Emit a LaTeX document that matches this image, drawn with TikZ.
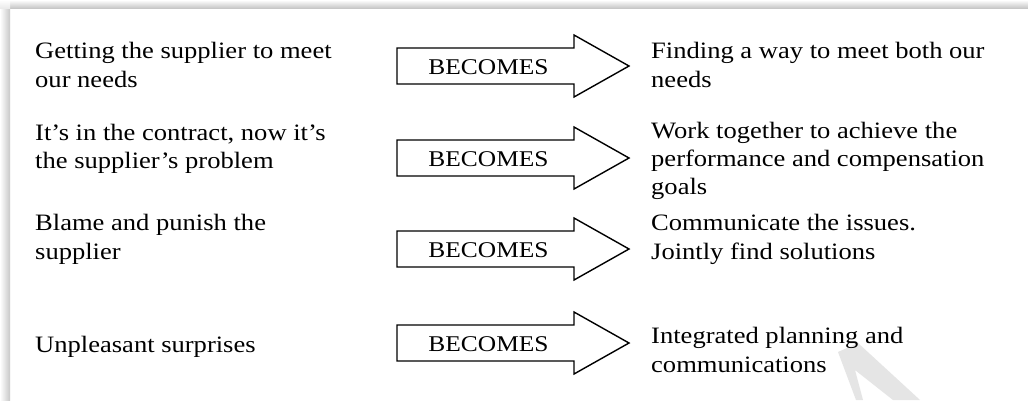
\documentclass[tikz,border=0pt]{standalone}
\usepackage{fontspec}
\setmainfont{Liberation Serif}[FakeStretch=1.13]
\begin{document}
\begin{tikzpicture}[x=1pt,y=-1pt,
  body/.style={anchor=base west,inner sep=0pt,font=\fontsize{23.5}{29}\selectfont},
  arrowline/.style={draw=black,fill=white,line width=1.4pt,line join=miter},
  becomestext/.style={inner sep=0pt,anchor=base,font=\fontsize{22.5}{27}\selectfont},
  becomes/.pic={
    \draw[arrowline] (-88.5,-18) -- (88.5,-18) -- (88.5,-31) -- (143.5,0) -- (88.5,31) -- (88.5,18) -- (-88.5,18) -- cycle;
    \node[becomestext] (-t) at (3,8) {BECOMES};
  }]
\useasboundingbox (0,0) rectangle (1028,400);
% page and shadow
\fill[white] (0,0) rectangle (1028,400);
\shade[left color=white,right color=black!22] (0,8) rectangle (10,400);
\shade[top color=white,bottom color=black!22] (10,0) rectangle (1028,8);
\shade[top color=white,bottom color=black!8] (0,0) rectangle (10,8);
% watermark fragment
\fill[black!10] (838,352) -- (858,343) -- (920,400) -- (893,400) -- (855,370) -- (863,400) -- (856,400) -- cycle;
% arrows
\pic (a1) at (485.5,66) {becomes};
\pic (a2) at (485.5,158) {becomes};
\pic (a3) at (485.5,249) {becomes};
\pic (a4) at (485.5,343) {becomes};
% left column
\node[body] (l1a) at (35,58) {Getting the supplier to meet};
\node[body] (l1b) at (35,87) {our needs};
\node[body] (l2a) at (35,140) {It’s in the contract, now it’s};
\node[body] (l2b) at (35,168) {the supplier’s problem};
\node[body] (l3a) at (35,230) {Blame and punish the};
\node[body] (l3b) at (35,259) {supplier};
\node[body] (l4a) at (35,352) {Unpleasant surprises};
% right column
\node[body] (r1a) at (651,58) {Finding a way to meet both our};
\node[body] (r1b) at (651,87) {needs};
\node[body] (r2a) at (651,138) {Work together to achieve the};
\node[body] (r2b) at (651,166) {performance and compensation};
\node[body] (r2c) at (651,194) {goals};
\node[body] (r3a) at (651,230) {Communicate the issues.};
\node[body] (r3b) at (651,259) {Jointly find solutions};
\node[body] (r4a) at (651,343) {Integrated planning and};
\node[body] (r4b) at (651,372) {communications};
\end{tikzpicture}
\end{document}
